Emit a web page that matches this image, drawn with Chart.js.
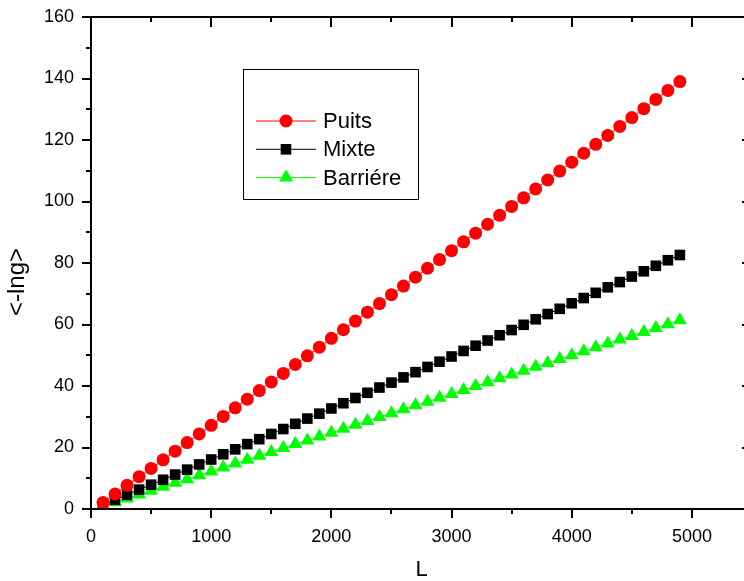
<!DOCTYPE html>
<html lang="fr">
<head>
    <meta charset="UTF-8">
    <title>&lt;-lng&gt; en fonction de L</title>
    <script src="https://cdn.jsdelivr.net/npm/chart.js@4.4.1/dist/chart.umd.min.js"></script>
    <style>
        html, body { margin: 0; padding: 0; overflow: hidden; background: #fff; }
        #wrap { width: 744px; height: 581px; overflow: hidden; }
        canvas { display: block; }
    </style>
</head>
<body>
    <div id="wrap"><canvas id="myChart" width="770" height="581"></canvas></div>
    <script>
        // values
        const lengths = [100, 200, 300, 400, 500, 600, 700, 800, 900, 1000,
                         1100, 1200, 1300, 1400, 1500, 1600, 1700, 1800, 1900, 2000,
                         2100, 2200, 2300, 2400, 2500, 2600, 2700, 2800, 2900, 3000,
                         3100, 3200, 3300, 3400, 3500, 3600, 3700, 3800, 3900, 4000,
                         4100, 4200, 4300, 4400, 4500, 4600, 4700, 4800, 4900];
        const puits = [2.1, 4.9, 7.7, 10.5, 13.2, 16.0, 18.8, 21.6, 24.4, 27.2,
                       30.1, 32.9, 35.7, 38.5, 41.3, 44.1, 47.0, 49.8, 52.6, 55.5,
                       58.3, 61.1, 64.0, 66.8, 69.7, 72.5, 75.4, 78.3, 81.1, 84.0,
                       86.9, 89.7, 92.6, 95.5, 98.4, 101.2, 104.1, 107.0, 109.9, 112.8,
                       115.7, 118.6, 121.5, 124.4, 127.3, 130.2, 133.2, 136.1, 139.0];
        const mixte = [1.4, 3.0, 4.6, 6.3, 7.9, 9.5, 11.2, 12.8, 14.5, 16.1,
                       17.8, 19.4, 21.1, 22.7, 24.4, 26.0, 27.7, 29.4, 31.0, 32.7,
                       34.4, 36.1, 37.8, 39.5, 41.1, 42.8, 44.5, 46.2, 47.9, 49.6,
                       51.4, 53.1, 54.8, 56.5, 58.2, 59.9, 61.7, 63.4, 65.1, 66.9,
                       68.6, 70.3, 72.1, 73.8, 75.6, 77.3, 79.1, 80.9, 82.6];
        const barriere = [0.9, 2.2, 3.4, 4.7, 5.9, 7.2, 8.5, 9.7, 11.0, 12.2,
                          13.5, 14.8, 16.0, 17.3, 18.5, 19.8, 21.1, 22.3, 23.6, 24.8,
                          26.1, 27.4, 28.6, 29.9, 31.1, 32.4, 33.7, 34.9, 36.2, 37.4,
                          38.7, 40.0, 41.2, 42.5, 43.7, 45.0, 46.3, 47.5, 48.8, 50.0,
                          51.3, 52.6, 53.8, 55.1, 56.3, 57.6, 58.9, 60.1, 61.4];

        const xTicks = [0, 1000, 2000, 3000, 4000, 5000];
        const xMinor = [500, 1500, 2500, 3500, 4500, 5500];
        const yTicks = [0, 20, 40, 60, 80, 100, 120, 140, 160];
        const yMinor = [10, 30, 50, 70, 90, 110, 130, 150];

        const FONT = "'Liberation Sans', Arial, sans-serif";

        function toPoints(ys) {
            return lengths.map((x, i) => ({ x: x, y: ys[i] }));
        }

        function drawMarker(ctx, style, r, cx, cy, color) {
            ctx.fillStyle = color;
            ctx.beginPath();
            if (style === 'circle') {
                ctx.arc(cx, cy, r, 0, Math.PI * 2);
            } else if (style === 'rect') {
                const s = r * Math.SQRT1_2;
                ctx.rect(cx - s, cy - s, 2 * s, 2 * s);
            } else {
                for (let k = 0; k < 3; k++) {
                    const a = k * 2 * Math.PI / 3;
                    const px = cx + Math.sin(a) * r, py = cy - Math.cos(a) * r;
                    if (k === 0) ctx.moveTo(px, py); else ctx.lineTo(px, py);
                }
                ctx.closePath();
            }
            ctx.fill();
        }

        // axis box, ticks, y title and legend in the Origin style
        const frame = {
            id: 'frame',
            afterDatasetsDraw(chart) {
                const { ctx, chartArea: a, scales: { x, y } } = chart;
                ctx.save();
                ctx.strokeStyle = '#000';
                ctx.lineWidth = 2;
                ctx.strokeRect(a.left, a.top, a.right - a.left, a.bottom - a.top);

                ctx.beginPath();
                xTicks.forEach(v => {
                    const p = Math.round(x.getPixelForValue(v));
                    ctx.moveTo(p, a.bottom); ctx.lineTo(p, a.bottom + 9);
                    ctx.moveTo(p, a.top); ctx.lineTo(p, a.top + 10);
                });
                xMinor.forEach(v => {
                    const p = Math.round(x.getPixelForValue(v));
                    ctx.moveTo(p, a.bottom); ctx.lineTo(p, a.bottom + 5);
                    ctx.moveTo(p, a.top); ctx.lineTo(p, a.top + 5);
                });
                yTicks.forEach(v => {
                    const p = Math.round(y.getPixelForValue(v));
                    ctx.moveTo(a.left, p); ctx.lineTo(a.left - 9, p);
                    ctx.moveTo(a.right, p); ctx.lineTo(a.right - 10, p);
                });
                yMinor.forEach(v => {
                    const p = Math.round(y.getPixelForValue(v));
                    ctx.moveTo(a.left, p); ctx.lineTo(a.left - 5, p);
                    ctx.moveTo(a.right, p); ctx.lineTo(a.right - 5, p);
                });
                ctx.stroke();

                // y axis title
                ctx.fillStyle = '#000';
                ctx.font = '24px ' + FONT;
                ctx.textAlign = 'center';
                ctx.textBaseline = 'middle';
                ctx.translate(17, 282);
                ctx.rotate(-Math.PI / 2);
                ctx.fillText('<-lng>', 0, 0);
                ctx.setTransform(1, 0, 0, 1, 0, 0);

                // legend
                ctx.lineWidth = 1;
                ctx.strokeStyle = '#000';
                ctx.strokeRect(243.5, 69.5, 175, 130);
                chart.data.datasets.forEach((ds, i) => {
                    const yy = 121 + i * 28.3;
                    ctx.strokeStyle = ds.borderColor;
                    ctx.beginPath();
                    ctx.moveTo(256, yy); ctx.lineTo(316, yy);
                    ctx.stroke();
                    drawMarker(ctx, ds.pointStyle, ds.pointRadius, 286, yy, ds.pointBackgroundColor);
                    ctx.fillStyle = '#000';
                    ctx.font = '22px ' + FONT;
                    ctx.textAlign = 'left';
                    ctx.textBaseline = 'middle';
                    ctx.fillText(ds.label, 323, yy + 1);
                });
                ctx.restore();
            }
        };

        const ctx = document.getElementById('myChart').getContext('2d');
        const myChart = new Chart(ctx, {
            type: 'scatter',
            data: {
                datasets: [{
                    label: 'Puits',
                    data: toPoints(puits),
                    showLine: true,
                    borderColor: 'rgb(255, 0, 0)',
                    borderWidth: 1,
                    pointStyle: 'circle',
                    pointRadius: 6.5,
                    pointBorderWidth: 0,
                    pointBackgroundColor: 'rgb(255, 0, 0)'
                }, {
                    label: 'Mixte',
                    data: toPoints(mixte),
                    showLine: true,
                    borderColor: 'rgb(0, 0, 0)',
                    borderWidth: 1,
                    pointStyle: 'rect',
                    pointRadius: 7.5,
                    pointBorderWidth: 0,
                    pointBackgroundColor: 'rgb(0, 0, 0)'
                }, {
                    label: 'Barriére',
                    data: toPoints(barriere),
                    showLine: true,
                    borderColor: 'rgb(0, 255, 0)',
                    borderWidth: 1,
                    pointStyle: 'triangle',
                    pointRadius: 8,
                    pointBorderWidth: 0,
                    pointBackgroundColor: 'rgb(0, 255, 0)'
                }]
            },
            options: {
                responsive: false,
                animation: false,
                devicePixelRatio: 1,
                layout: { padding: { left: 0, right: 18, top: 17, bottom: 0 } },
                plugins: {
                    legend: { display: false },
                    tooltip: { enabled: false }
                },
                scales: {
                    x: {
                        type: 'linear',
                        min: 0,
                        max: 5500,
                        afterBuildTicks: s => { s.ticks = xTicks.map(v => ({ value: v })); },
                        afterFit: s => { s.height = 72; s.paddingLeft = 0; s.paddingRight = 0; },
                        grid: { display: false, drawTicks: false },
                        border: { display: false },
                        ticks: {
                            color: '#000', padding: 17, maxRotation: 0,
                            font: { family: FONT, size: 18 },
                            callback: v => String(v)
                        },
                        title: {
                            display: true,
                            text: 'L',
                            color: '#000',
                            padding: { top: 0, bottom: 0 },
                            font: { family: FONT, size: 22, lineHeight: 1 }
                        }
                    },
                    y: {
                        type: 'linear',
                        min: 0,
                        max: 160,
                        afterBuildTicks: s => { s.ticks = yTicks.map(v => ({ value: v })); },
                        afterFit: s => { s.width = 91; s.paddingTop = 0; s.paddingBottom = 0; },
                        grid: { display: false, drawTicks: false },
                        border: { display: false },
                        ticks: {
                            color: '#000', padding: 17,
                            font: { family: FONT, size: 18 },
                            callback: v => String(v)
                        }
                    }
                }
            },
            plugins: [frame]
        });
    </script>
</body>
</html>
